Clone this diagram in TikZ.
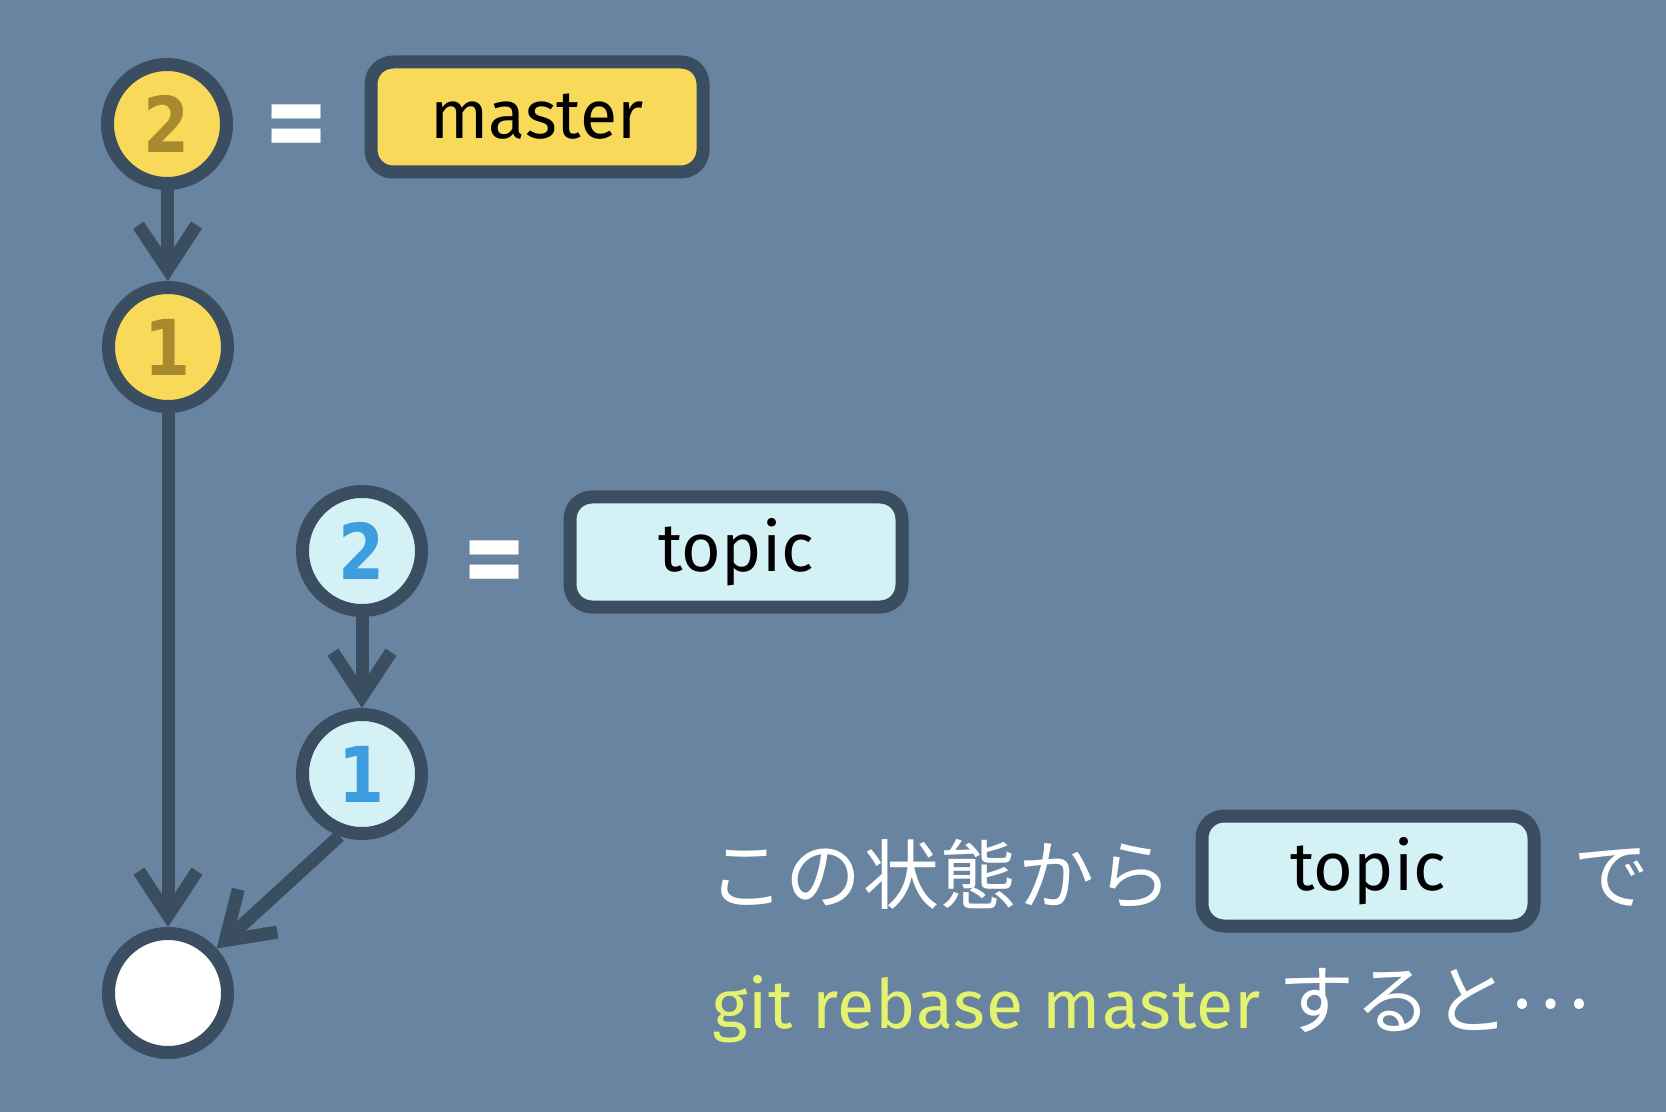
\documentclass[tikz,border=0pt]{standalone}
\usepackage{fontspec}
\usetikzlibrary{arrows.meta}
\setmainfont{Fira Sans}
\newfontfamily\labfont{Fira Sans}
\newfontfamily\cmdfont[LetterSpace=1.5]{Fira Sans}
\newfontfamily\digfont[FakeStretch=0.86]{DejaVu Sans}
\newfontfamily\jpfont[LetterSpace=2]{Noto Sans CJK JP}
\definecolor{bg}{RGB}{104,132,160}
\definecolor{outl}{RGB}{59,77,96}
\definecolor{yfill}{RGB}{249,217,90}
\definecolor{cfill}{RGB}{212,242,246}
\definecolor{golddig}{RGB}{168,138,46}
\definecolor{bluedig}{RGB}{62,157,222}
\definecolor{cmdcol}{RGB}{228,243,111}
\tikzset{
  commit/.style={circle, draw=outl, line width=6.5pt, minimum size=59.5pt, inner sep=0pt,
    font=\digfont\bfseries\fontsize{38.5pt}{40pt}\selectfont},
  mcommit/.style={commit, fill=yfill, text=golddig},
  tcommit/.style={commit, fill=cfill, text=bluedig},
  branch/.style={rectangle, rounded corners=11pt, draw=outl, line width=6.5pt,
    minimum width=166pt, minimum height=55pt, inner sep=0pt, text=black,
    font=\labfont\fontsize{34pt}{36pt}\selectfont},
  eqsign/.style={text=white, inner sep=0pt, font=\labfont\bfseries\fontsize{58pt}{60pt}\selectfont},
  jp/.style={text=white, inner sep=0pt, font=\jpfont\fontsize{38pt}{40pt}\selectfont},
  cmd/.style={text=cmdcol, inner sep=0pt, font=\cmdfont\fontsize{34pt}{36pt}\selectfont},
  conn/.style={draw=outl, line width=6.5pt, -{Straight Barb[sharp, length=22pt, width=29pt]}},
}
\begin{document}
\begin{tikzpicture}[x=0.5pt, y=-0.5pt]
  \fill[bg] (0,0) rectangle (1666,1112);
  \useasboundingbox (0,0) rectangle (1666,1112);

  \node[mcommit] (m2) at (167,124) {2};
  \node[mcommit] (m1) at (168,347) {1};
  \node[tcommit] (t2) at (362,551) {2};
  \node[tcommit] (t1) at (362,774) {1};
  \node[commit, fill=white] (base) at (168,993) {};

  \node[eqsign] (e1) at (297,134) {=};
  \node[eqsign] (e2) at (495,570) {=};
  \node[branch, fill=yfill] (mb) at (537,117) {master};
  \node[branch, fill=cfill] (tb) at (736,552) {topic};

  \draw[conn] (m2) -- (m1);
  \draw[conn] (t2) -- (t1);
  \draw[conn] (m1) -- (base);
  \draw[conn] (t1.-110) -- (base);

  \node[jp, anchor=base west] (j1) at (708,903) {この状態から};
  \node[branch, fill=cfill] (tb2) at (1368,871) {topic};
  \node[jp, anchor=base west] (j2) at (1573,903) {で};
  \node[cmd, anchor=base west] (g) at (712,1028) {git rebase master};
  \node[jp, anchor=base west] (j3) at (1278,1028) {すると\raisebox{10pt}{…}};
\end{tikzpicture}
\end{document}
